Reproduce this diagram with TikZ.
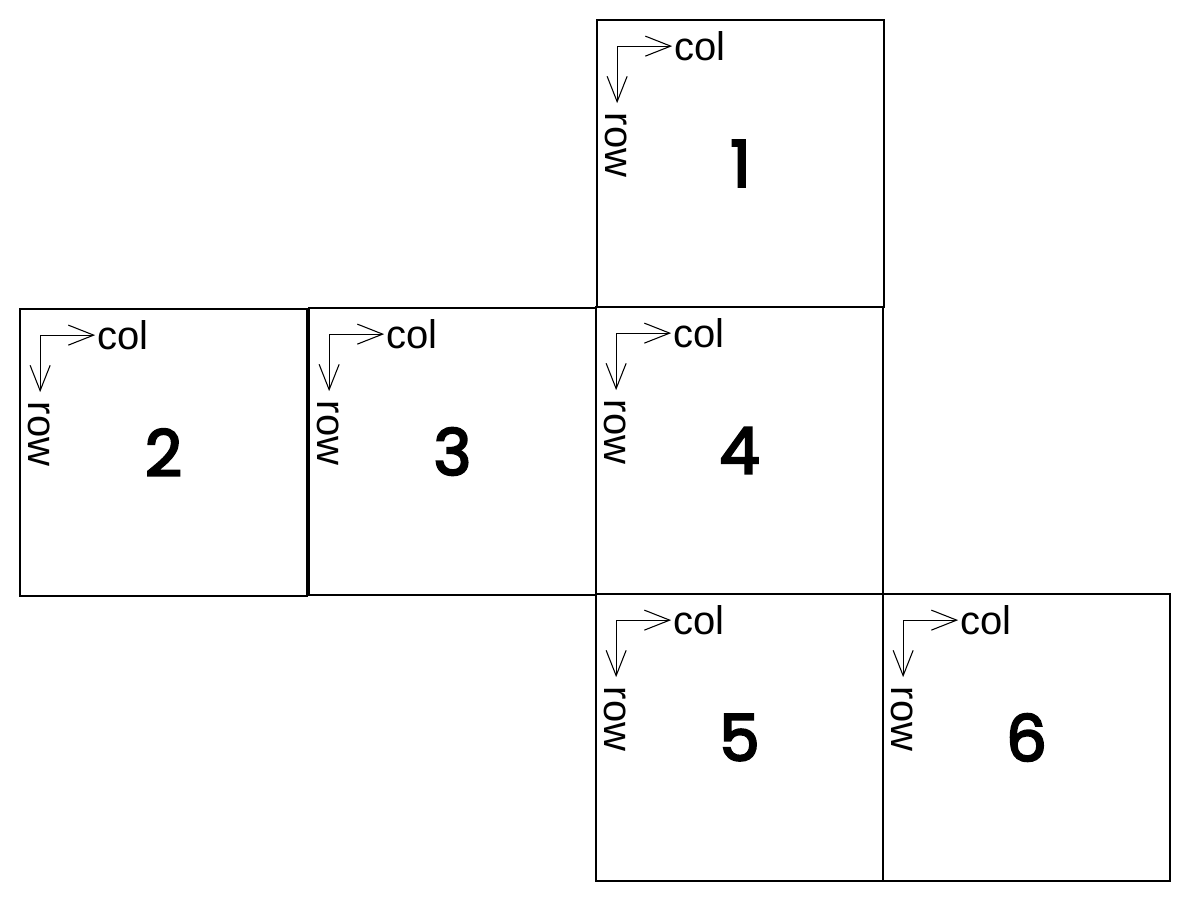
\documentclass[tikz,border=0pt]{standalone}
\usepackage{fontspec}
\setmainfont{Liberation Sans}
\font\digitfont="Poppins:embolden=3.5" at 48pt
\usetikzlibrary{calc,arrows.meta}
\tikzset{
  face/.style={draw, line width=1.3pt, minimum size=215.25pt, inner sep=0pt,
    font=\digitfont},
  axis/.style={line width=0.8pt, -{Straight Barb[length=19pt,width=15pt,line width=0.8pt]}},
  lbl/.style={font=\fontsize{30}{30}\selectfont, inner sep=1.5pt}
}
\begin{document}
\begin{tikzpicture}[x=0.75pt,y=-0.75pt]
	\useasboundingbox (0,0) rectangle (1190,902);
	% the six faces of the net
	\foreach \n/\x/\y in {1/597/20, 2/20/309, 3/309/308, 4/596/307, 5/596/594, 6/883/594}{
		\node[face] (face\n) at (\x+143.5,\y+143.5) {\n};
		\coordinate (corner\n) at ($(face\n.north west)+(21,27)$);
		\draw[axis] (corner\n) -- ++(55,0) node[right, lbl] (col\n) {col};
		\draw[axis] (corner\n) -- ++(0,57);
		\node[lbl, rotate=-90] (row\n) at ($(face\n.north west)+(20,126)$) {row};
	}
\end{tikzpicture}
\end{document}
